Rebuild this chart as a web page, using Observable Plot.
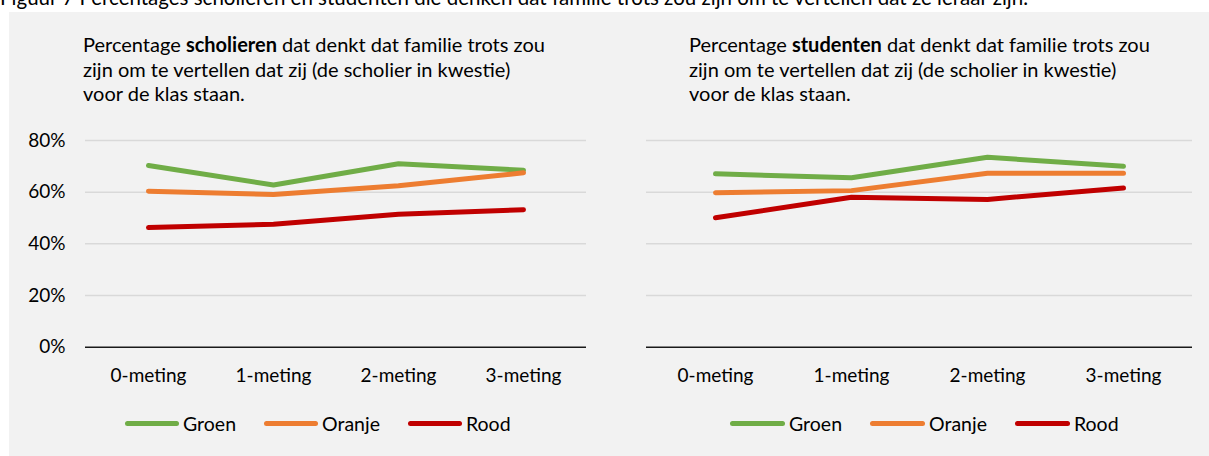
<!DOCTYPE html>
<html>
<head>
<meta charset="utf-8">
<script src="https://cdn.jsdelivr.net/npm/d3@7"></script>
<script src="https://cdn.jsdelivr.net/npm/@observablehq/plot@0.6"></script>
<style>
  html, body { margin: 0; padding: 0; background: #ffffff; }
  body { width: 1209px; height: 456px; position: relative; overflow: hidden; font-family: Lato, "Open Sans", sans-serif; color: #000; }
  #caption { position: absolute; left: 0; top: -15px; font-size: 20.5px; white-space: nowrap; color: #000; }
  #panel { position: absolute; left: 9px; top: 12px; width: 1200px; height: 444px; background: #F2F2F2; }
  .title { position: absolute; font-size: 20px; line-height: 24.5px; white-space: nowrap; }
  .chart { position: absolute; top: 120px; }
  .legend { position: absolute; white-space: nowrap; display: flex; align-items: center; font-size: 19.5px; top: 412px; }
  .legend .item { display: flex; align-items: center; }
  .legend .sw { display: inline-block; height: 5px; border-radius: 3px; margin-right: 4px; }
</style>
</head>
<body>
<div id="caption">Figuur 7 Percentages scholieren en studenten die denken dat familie trots zou zijn om te vertellen dat ze leraar zijn.</div>
<div id="panel"></div>
<div class="title" id="title1" style="left:83px; top:32px;">Percentage <b>scholieren</b> dat denkt dat familie trots zou<br>zijn om te vertellen dat zij (de scholier in kwestie)<br>voor de klas staan.</div>
<div class="title" id="title2" style="left:689px; top:32px;">Percentage <b>studenten</b> dat denkt dat familie trots zou<br>zijn om te vertellen dat zij (de scholier in kwestie)<br>voor de klas staan.</div>
<div class="chart" id="chart1" style="left:0px;"></div>
<div class="chart" id="chart2" style="left:600px;"></div>
<div class="legend" id="legend1" style="left:125px;"></div>
<div class="legend" id="legend2" style="left:730px;"></div>
<script>
const categories = ["0-meting", "1-meting", "2-meting", "3-meting"];
const series = ["Groen", "Oranje", "Rood"];
const seriesColors = ["#70AD47", "#ED7D31", "#C00000"];
const yTicks = [0, 20, 40, 60, 80];

// Scholieren (%)
const scholierenGroen  = [70.3, 62.8, 71.0, 68.5];
const scholierenOranje = [60.4, 59.1, 62.5, 67.5];
const scholierenRood   = [46.3, 47.6, 51.5, 53.2];

// Studenten (%)
const studentenGroen  = [67.1, 65.6, 73.5, 70.0];
const studentenOranje = [59.8, 60.6, 67.3, 67.3];
const studentenRood   = [50.1, 58.0, 57.2, 61.6];

function toRows(arrays) {
  const rows = [];
  arrays.forEach((vals, si) => {
    vals.forEach((v, ci) => rows.push({ series: series[si], cat: categories[ci], value: v }));
  });
  return rows;
}

const fontFamily = 'Lato, "Open Sans", sans-serif';

function makeChart(rows, { width, marginLeft, marginRight, showY }) {
  return Plot.plot({
    width,
    height: 270,
    marginLeft,
    marginRight,
    marginTop: 20,
    marginBottom: 43.3,
    style: { background: "transparent", fontFamily, fontSize: "19px", color: "#000", overflow: "visible" },
    x: { type: "point", domain: categories, padding: 0.5, label: null, tickSize: 0, tickPadding: 21 },
    y: { domain: [0, 80], ticks: yTicks, label: null, tickSize: 0, tickPadding: 20, tickFormat: d => d + "%", axis: showY ? "left" : null },
    color: { domain: series, range: seriesColors },
    marks: [
      Plot.gridY(yTicks.filter(t => t > 0), { stroke: "#D9D9D9", strokeOpacity: 1, strokeWidth: 1.5 }),
      Plot.ruleY([0], { stroke: "#1a1a1a", strokeWidth: 1.6 }),
      Plot.line(rows, { x: "cat", y: "value", z: "series", stroke: "series", strokeWidth: 5, strokeLinecap: "round", strokeLinejoin: "round" })
    ]
  });
}

document.getElementById("chart1").append(
  makeChart(toRows([scholierenGroen, scholierenOranje, scholierenRood]), { width: 600, marginLeft: 85, marginRight: 14, showY: true })
);
document.getElementById("chart2").append(
  makeChart(toRows([studentenGroen, studentenOranje, studentenRood]), { width: 609, marginLeft: 46, marginRight: 17, showY: false })
);

function makeLegend(el, swWidth, gap) {
  series.forEach((s, i) => {
    const item = document.createElement("span");
    item.className = "item";
    if (i < series.length - 1) item.style.marginRight = gap + "px";
    const sw = document.createElement("span");
    sw.className = "sw";
    sw.style.width = swWidth + "px";
    sw.style.background = seriesColors[i];
    const t = document.createElement("span");
    t.textContent = s;
    item.append(sw, t);
    el.append(item);
  });
}
makeLegend(document.getElementById("legend1"), 54, 28);
makeLegend(document.getElementById("legend2"), 55, 28);
</script>
</body>
</html>
